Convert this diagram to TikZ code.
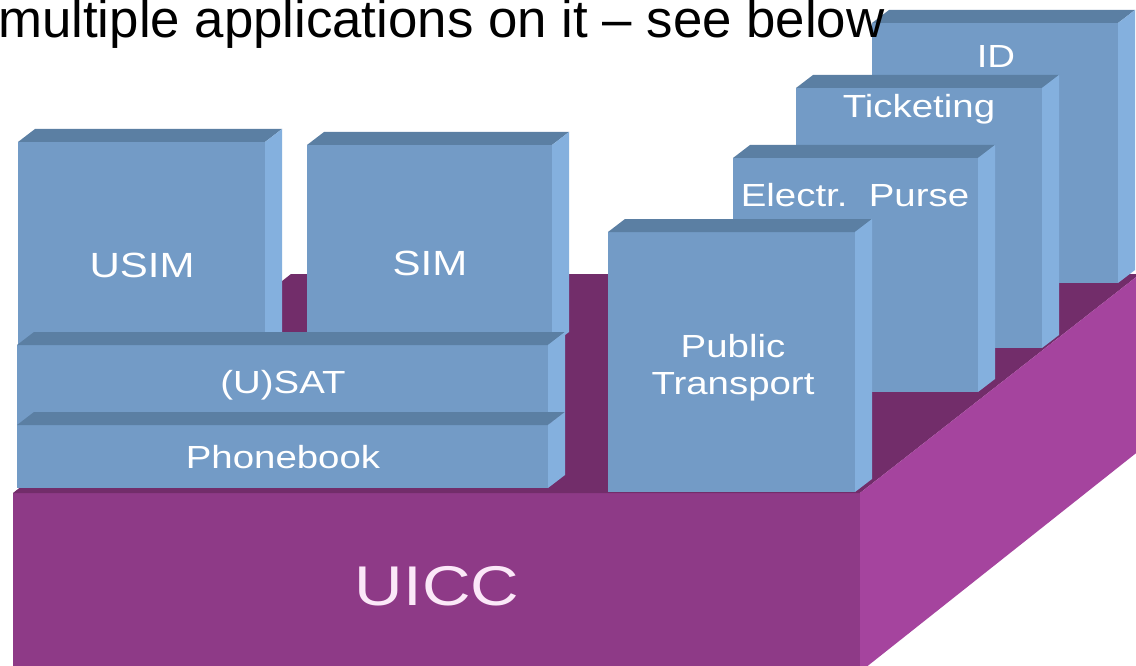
\documentclass[tikz,border=0pt]{standalone}
\usepackage{fontspec}
\setmainfont{Liberation Sans}
\newfontfamily\lblfont[FakeStretch=1.2]{Liberation Sans}
\definecolor{blfrontc}{HTML}{739BC6}
\definecolor{bltopc}{HTML}{5B7FA3}
\definecolor{blsidec}{HTML}{84B0DE}
\definecolor{ufrontc}{HTML}{8E3A87}
\definecolor{utopc}{HTML}{722D6A}
\definecolor{usidec}{HTML}{A5449E}
\definecolor{uicctext}{HTML}{FBE8F8}
\tikzset{
  blfront/.style={fill=blfrontc},
  bltop/.style={fill=bltopc},
  blside/.style={fill=blsidec},
  lbl/.style={text=white, inner sep=0pt, anchor=base, font=\lblfont\fontsize{32}{37}\selectfont},
  lblbig/.style={lbl, font=\lblfont\fontsize{35}{40}\selectfont},
}
\newcommand{\appblock}[4]{%
  \fill[blfront] (#1,#2) rectangle (#3,#4);
  \fill[bltop] (#1,#2) -- (#1+17,#2-13) -- (#3+17,#2-13) -- (#3,#2) -- cycle;
  \fill[blside] (#3,#2) -- (#3+17,#2-13) -- (#3+17,#4-13) -- (#3,#4) -- cycle;
}
\begin{document}
\begin{tikzpicture}[x=1pt,y=-1pt]
\useasboundingbox (0,0) rectangle (1136,666);
\fill[white] (0,0) rectangle (1136,666);
\clip (0,0) rectangle (1136,666);
% UICC base
\fill[ufrontc] (13,493) rectangle (860,700);
\fill[utopc] (13,493) -- (291,274) -- (1140,274) -- (860,493) -- cycle;
\fill[usidec] (860,493) -- (1140,274) -- (1140,450) -- (860,672) -- cycle;
\node[lbl, text=uicctext, font=\lblfont\fontsize{56}{60}\selectfont] (uicc) at (437,605) {UICC};
% right-hand applications (back to front)
\appblock{872}{23}{1118}{283}
\appblock{796}{88}{1042}{348}
\appblock{733}{158}{978}{392}
\appblock{608}{232}{855}{492}
% left-hand applications
\appblock{18}{142}{265}{345}
\appblock{307}{145}{552}{345}
\appblock{17}{345}{548}{425}
\appblock{17}{425}{548}{488}
% labels
\node[lblbig] (usim) at (142,277) {USIM};
\node[lblbig] (sim) at (430,275) {SIM};
\node[lbl] (usat) at (283,393) {(U)SAT};
\node[lbl] (phone) at (283,468) {Phonebook};
\node[lbl] (ptA) at (733,357) {Public};
\node[lbl] (ptB) at (733,394) {Transport};
\node[lbl] (purse) at (855,207) {Electr.\ \ Purse};
\node[lbl] (ticket) at (919,118) {Ticketing};
\node[lbl] (id) at (996,68) {ID};
% heading
\node[anchor=base west, inner sep=0pt, font=\fontsize{52.8}{60}\selectfont] (title) at (-2,38) {multiple applications on it – see below};
\end{tikzpicture}
\end{document}
